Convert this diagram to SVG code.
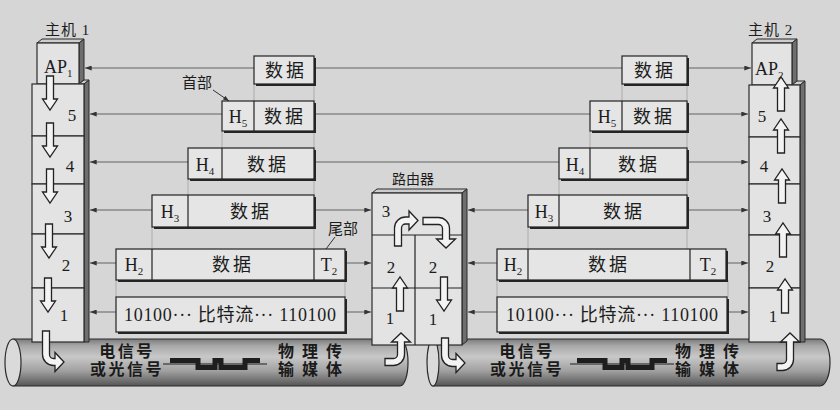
<svg xmlns="http://www.w3.org/2000/svg" width="840" height="410" viewBox="0 0 840 410">
<style>
.t{font-family:"Liberation Serif","Noto Sans CJK SC",serif;fill:#1c1c1c}
.cn{font-size:18px;letter-spacing:3px}
.hx{font-size:18px}
.num{font-size:17px}
.lbl{font-size:15px;letter-spacing:1px}
.cab{font-size:16px;font-weight:bold;fill:#1a1a1a}
.front{fill:#e3e3e3;stroke:#2b2b2b;stroke-width:1.2}
.side{fill:#6e6e6e;stroke:#2b2b2b;stroke-width:1}
.topf{fill:#cdcdcd;stroke:#2b2b2b;stroke-width:1}
.pdu{fill:#e5e5e5;stroke:#222;stroke-width:1.2}
.shd{fill:#262626}
.sep{stroke:#222;stroke-width:1.2}
.conn{stroke:#555;stroke-width:0.9;fill:none}
.guide{stroke:#9c9c9c;stroke-width:0.7}
.ha{fill:#f3f3f3;stroke:#222;stroke-width:1.3}
.cable{fill:url(#cg);stroke:#2b2b2b;stroke-width:1.2}
.cend{fill:#dadada;stroke:#2b2b2b;stroke-width:1.2}
.wave{fill:none;stroke:#1e1e1e;stroke-width:5}
.wline{stroke:#1e1e1e;stroke-width:1.2}
.lead{stroke:#333;stroke-width:1}
</style>
<defs>
<marker id="ah" viewBox="0 0 8 6" refX="8" refY="3" markerWidth="7" markerHeight="5" orient="auto-start-reverse" markerUnits="userSpaceOnUse"><path d="M0,0 L8,3 L0,6 Z" fill="#333"/></marker>
<marker id="la" viewBox="0 0 8 6" refX="8" refY="3" markerWidth="6" markerHeight="5" orient="auto" markerUnits="userSpaceOnUse"><path d="M0,0 L8,3 L0,6 Z" fill="#333"/></marker>
<linearGradient id="cg" x1="0" y1="0" x2="0" y2="1">
<stop offset="0" stop-color="#7a7a7a"/><stop offset="0.15" stop-color="#a9a9a9"/><stop offset="0.38" stop-color="#c8c8c8"/><stop offset="0.68" stop-color="#a0a0a0"/><stop offset="1" stop-color="#555"/>
</linearGradient>
<path id="dn" d="M-3.5,0 H3.5 V23 H7.5 L0,34 L-7.5,23 H-3.5 Z"/>
<path id="up" d="M-3.5,0 H3.5 V-23 H7.5 L0,-34 L-7.5,-23 H-3.5 Z"/>
</defs>
<rect x="0" y="0" width="840" height="410" fill="#d6d6d6"/>

<g id="connectors">
<g class="guide">
<line x1="254" y1="84" x2="254" y2="101"/><line x1="314" y1="84" x2="314" y2="249"/>
<line x1="222" y1="131" x2="222" y2="148"/><line x1="188" y1="179" x2="188" y2="195"/>
<line x1="152" y1="227" x2="152" y2="249"/><line x1="116" y1="280" x2="116" y2="297"/><line x1="345" y1="280" x2="345" y2="297"/>
<line x1="622" y1="84" x2="622" y2="101"/><line x1="687" y1="84" x2="687" y2="249"/>
<line x1="590" y1="131" x2="590" y2="148"/><line x1="559" y1="179" x2="559" y2="195"/>
<line x1="528" y1="227" x2="528" y2="249"/><line x1="497" y1="280" x2="497" y2="297"/><line x1="728" y1="280" x2="728" y2="297"/>
</g>
<g class="conn" marker-start="url(#ah)" marker-end="url(#ah)">
<line x1="85" y1="68" x2="751" y2="68"/>
<line x1="90" y1="114" x2="748" y2="114"/>
<line x1="90" y1="162" x2="748" y2="162"/>
<line x1="90" y1="210" x2="371" y2="210"/><line x1="468" y1="210" x2="748" y2="210"/>
<line x1="90" y1="263" x2="371" y2="263"/><line x1="468" y1="263" x2="748" y2="263"/>
<line x1="90" y1="312" x2="371" y2="312"/><line x1="468" y1="312" x2="748" y2="312"/>
</g>
</g>

<g id="cable1">
<path class="cable" d="M13,339 H400 A8,23.5 0 0 1 400,386 H13 Z"/>
<ellipse class="cend" cx="13" cy="362.5" rx="8" ry="23.5"/>
<line class="wline" x1="163" y1="364" x2="267" y2="364"/>
<path class="wave" d="M170,360.5 H198 V367.5 H215 V360.5 H221 V367.5 H245 V360.5 H260"/>
<text class="t cab" x="127" y="357" text-anchor="middle" letter-spacing="2.5">电信号</text>
<text class="t cab" x="127" y="375" text-anchor="middle" letter-spacing="2.5">或光信号</text>
<text class="t cab" x="278" y="357" letter-spacing="8">物理传</text>
<text class="t cab" x="278" y="375" letter-spacing="8">输媒体</text>
</g>

<g id="cable2">
<path class="cable" d="M433,339 H820 A10,23.5 0 0 1 820,386 H433 Z"/>
<ellipse class="cend" cx="433" cy="362.5" rx="6" ry="23.5"/>
<line class="wline" x1="570" y1="364" x2="674" y2="364"/>
<path class="wave" d="M577,360.5 H605 V367.5 H622 V360.5 H628 V367.5 H652 V360.5 H667"/>
<text class="t cab" x="527" y="357" text-anchor="middle" letter-spacing="2.5">电信号</text>
<text class="t cab" x="527" y="375" text-anchor="middle" letter-spacing="2.5">或光信号</text>
<text class="t cab" x="675" y="357" letter-spacing="8">物理传</text>
<text class="t cab" x="675" y="375" letter-spacing="8">输媒体</text>
</g>

<g id="host1">
<text class="t lbl" x="45" y="35">主机 1</text>
<polygon class="topf" points="37,43 42,39 84,39 79,43"/>
<polygon class="side" points="79,43 84,39 84,80 79,84"/>
<polygon class="topf" points="79,84 84,80 89,80 84,84"/>
<polygon class="side" points="84,84 89,80 89,342 84,342"/>
<rect class="front" x="37" y="43" width="42" height="41"/>
<rect class="front" x="32" y="84" width="52" height="52"/>
<rect class="front" x="32" y="136" width="52" height="48"/>
<rect class="front" x="32" y="184" width="52" height="50"/>
<rect class="front" x="32" y="234" width="52" height="54"/>
<rect class="front" x="32" y="288" width="52" height="54"/>
<text class="t hx" x="44" y="73">AP<tspan font-size="11" dy="4">1</tspan></text>
<g class="t num" text-anchor="middle">
<text x="72" y="121">5</text><text x="70" y="172">4</text><text x="68" y="222">3</text><text x="66" y="271">2</text><text x="64" y="321">1</text>
</g>
<g class="ha">
<use href="#dn" x="50" y="76"/><use href="#dn" x="50" y="123"/><use href="#dn" x="50" y="169"/><use href="#dn" x="49" y="224"/><use href="#dn" x="48" y="278"/>
<path transform="translate(46,331) scale(1,-1)" d="M-3.5,0 V-23.5 A11,11 0 0 1 7.5,-34.5 H9 V-40.5 L18,-31 L9,-21.5 V-27.5 H7.5 A4,4 0 0 0 3.5,-23.5 V0 Z"/>
</g>
</g>

<g id="host2">
<text class="t lbl" x="748" y="35">主机 2</text>
<polygon class="topf" points="752,43 757,39 797,39 792,43"/>
<polygon class="side" points="792,43 797,39 797,81 792,85"/>
<polygon class="topf" points="792,85 797,81 805,81 800,85"/>
<polygon class="side" points="800,85 805,81 805,342 800,342"/>
<rect class="front" x="752" y="43" width="40" height="42"/>
<rect class="front" x="749" y="85" width="51" height="52"/>
<rect class="front" x="749" y="137" width="51" height="47"/>
<rect class="front" x="749" y="184" width="51" height="51"/>
<rect class="front" x="749" y="235" width="51" height="53"/>
<rect class="front" x="749" y="288" width="51" height="54"/>
<text class="t hx" x="755" y="75">AP<tspan font-size="11" dy="4">2</tspan></text>
<g class="t num" text-anchor="middle">
<text x="762" y="122">5</text><text x="764" y="172">4</text><text x="767" y="222">3</text><text x="770" y="272">2</text><text x="773" y="322">1</text>
</g>
<g class="ha">
<use href="#up" x="781" y="111"/><use href="#up" x="781" y="153"/><use href="#up" x="782" y="203"/><use href="#up" x="783" y="257"/><use href="#up" x="785" y="313"/>
<path transform="matrix(0,-1,-1,0,777,367)" d="M-3.5,0 V-5.5 A11,11 0 0 1 7.5,-16.5 H25 V-22.5 L34,-13 L25,-3.5 V-9.5 H7.5 A4,4 0 0 0 3.5,-5.5 V0 Z"/>
</g>
</g>

<g id="router">
<text class="t" x="413" y="184" font-size="14" text-anchor="middle">路由器</text>
<polygon class="topf" points="372,193 377,189 467,189 462,193"/>
<polygon class="side" points="462,193 467,189 467,341 462,345"/>
<rect class="front" x="372" y="193" width="90" height="152"/>
<line class="sep" x1="372" y1="235" x2="462" y2="235"/>
<line class="sep" x1="372" y1="288" x2="462" y2="288"/>
<line class="sep" x1="415" y1="235" x2="415" y2="345"/>
<g class="t num" text-anchor="middle">
<text x="386" y="217">3</text><text x="391" y="273">2</text><text x="433" y="273">2</text><text x="390" y="324">1</text><text x="433" y="325">1</text>
</g>
<g class="ha">
<use href="#up" x="400" y="311"/>
<use href="#dn" x="444" y="277"/>
<path transform="translate(398,246)" d="M-3.5,0 V-18 A11,11 0 0 1 7.5,-29 H11 V-35 L20,-25.5 L11,-16 V-22 H7.5 A4,4 0 0 0 3.5,-18 V0 Z"/>
<path transform="translate(423,221) rotate(90)" d="M-3.5,0 V-15.5 A11,11 0 0 1 7.5,-26.5 H18 V-32.5 L27,-23 L18,-13.5 V-19.5 H7.5 A4,4 0 0 0 3.5,-15.5 V0 Z"/>
<path transform="translate(445,338) scale(1,-1)" d="M-3.5,0 V-17.5 A11,11 0 0 1 7.5,-28.5 H11 V-34.5 L20,-25 L11,-15.5 V-21.5 H7.5 A4,4 0 0 0 3.5,-17.5 V0 Z"/>
<path transform="matrix(0,-1,-1,0,385,362)" d="M-3.5,0 V-8.5 A11,11 0 0 1 7.5,-19.5 H20 V-25.5 L29,-16 L20,-6.5 V-12.5 H7.5 A4,4 0 0 0 3.5,-8.5 V0 Z"/>
</g>
</g>

<g id="pdu-left">
<g id="l-ap"><rect class="shd" x="256" y="58" width="60" height="28"/><rect class="pdu" x="254" y="56" width="60" height="28"/>
<text class="t cn" x="286" y="77" text-anchor="middle">数据</text></g>
<g id="l-h5"><rect class="shd" x="224" y="103" width="92" height="30"/><rect class="pdu" x="222" y="101" width="92" height="30"/>
<line class="sep" x1="254" y1="101" x2="254" y2="131"/>
<text class="t hx" x="238" y="123" text-anchor="middle">H<tspan font-size="11" dy="4">5</tspan></text>
<text class="t cn" x="285" y="123" text-anchor="middle">数据</text></g>
<g id="l-h4"><rect class="shd" x="190" y="150" width="126" height="31"/><rect class="pdu" x="188" y="148" width="126" height="31"/>
<line class="sep" x1="222" y1="148" x2="222" y2="179"/>
<text class="t hx" x="205" y="171" text-anchor="middle">H<tspan font-size="11" dy="4">4</tspan></text>
<text class="t cn" x="268" y="171" text-anchor="middle">数据</text></g>
<g id="l-h3"><rect class="shd" x="154" y="197" width="162" height="32"/><rect class="pdu" x="152" y="195" width="162" height="32"/>
<line class="sep" x1="188" y1="195" x2="188" y2="227"/>
<text class="t hx" x="170" y="218" text-anchor="middle">H<tspan font-size="11" dy="4">3</tspan></text>
<text class="t cn" x="251" y="218" text-anchor="middle">数据</text></g>
<g id="l-h2"><rect class="shd" x="118" y="251" width="229" height="31"/><rect class="pdu" x="116" y="249" width="229" height="31"/>
<line class="sep" x1="152" y1="249" x2="152" y2="280"/><line class="sep" x1="314" y1="249" x2="314" y2="280"/>
<text class="t hx" x="134" y="271" text-anchor="middle">H<tspan font-size="11" dy="4">2</tspan></text>
<text class="t cn" x="233" y="271" text-anchor="middle">数据</text>
<text class="t hx" x="329" y="271" text-anchor="middle">T<tspan font-size="11" dy="4">2</tspan></text></g>
<g id="l-bits"><rect class="shd" x="118" y="299" width="229" height="35"/><rect class="pdu" x="116" y="297" width="229" height="35"/>
<text class="t" x="230" y="321" font-size="18" text-anchor="middle" textLength="212" lengthAdjust="spacing">10100··· 比特流··· 110100</text></g>
<text class="t" x="182" y="88" font-size="15">首部</text>
<text class="t" x="328" y="234" font-size="15">尾部</text>
</g>

<g id="pdu-right">
<g id="r-ap"><rect class="shd" x="624" y="58" width="65" height="28"/><rect class="pdu" x="622" y="56" width="65" height="28"/>
<text class="t cn" x="655" y="77" text-anchor="middle">数据</text></g>
<g id="r-h5"><rect class="shd" x="592" y="103" width="97" height="30"/><rect class="pdu" x="590" y="101" width="97" height="30"/>
<line class="sep" x1="622" y1="101" x2="622" y2="131"/>
<text class="t hx" x="607" y="123" text-anchor="middle">H<tspan font-size="11" dy="4">5</tspan></text>
<text class="t cn" x="654" y="123" text-anchor="middle">数据</text></g>
<g id="r-h4"><rect class="shd" x="561" y="150" width="128" height="31"/><rect class="pdu" x="559" y="148" width="128" height="31"/>
<line class="sep" x1="590" y1="148" x2="590" y2="179"/>
<text class="t hx" x="575" y="171" text-anchor="middle">H<tspan font-size="11" dy="4">4</tspan></text>
<text class="t cn" x="639" y="171" text-anchor="middle">数据</text></g>
<g id="r-h3"><rect class="shd" x="530" y="197" width="159" height="32"/><rect class="pdu" x="528" y="195" width="159" height="32"/>
<line class="sep" x1="559" y1="195" x2="559" y2="227"/>
<text class="t hx" x="544" y="218" text-anchor="middle">H<tspan font-size="11" dy="4">3</tspan></text>
<text class="t cn" x="624" y="218" text-anchor="middle">数据</text></g>
<g id="r-h2"><rect class="shd" x="499" y="251" width="229" height="31"/><rect class="pdu" x="497" y="249" width="229" height="31"/>
<line class="sep" x1="528" y1="249" x2="528" y2="280"/><line class="sep" x1="690" y1="249" x2="690" y2="280"/>
<text class="t hx" x="513" y="271" text-anchor="middle">H<tspan font-size="11" dy="4">2</tspan></text>
<text class="t cn" x="609" y="271" text-anchor="middle">数据</text>
<text class="t hx" x="708" y="271" text-anchor="middle">T<tspan font-size="11" dy="4">2</tspan></text></g>
<g id="r-bits"><rect class="shd" x="499" y="299" width="230" height="35"/><rect class="pdu" x="497" y="297" width="230" height="35"/>
<text class="t" x="612" y="321" font-size="18" text-anchor="middle" textLength="212" lengthAdjust="spacing">10100··· 比特流··· 110100</text></g>
</g>

<g id="leaders">
<line class="lead" x1="213" y1="90" x2="229" y2="101" marker-end="url(#la)"/>
<line class="lead" x1="335" y1="237" x2="326" y2="249"/>
</g>
</svg>
